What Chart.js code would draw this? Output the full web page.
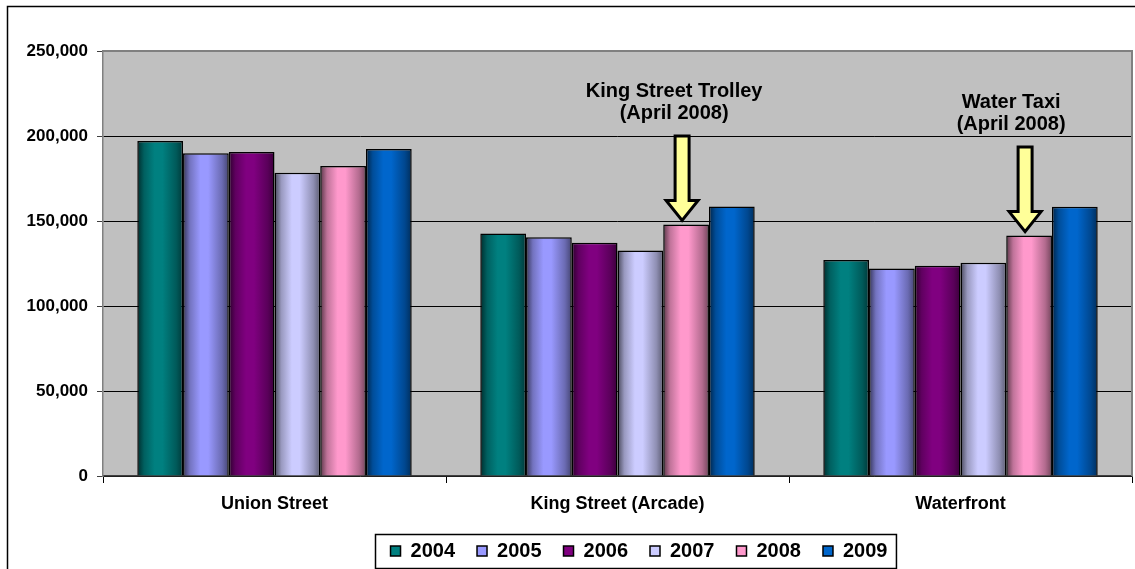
<!DOCTYPE html>
<html>
<head>
<meta charset="utf-8">
<script src="https://cdn.jsdelivr.net/npm/chart.js@4.4.1/dist/chart.umd.min.js"></script>
<style>
  html, body { margin: 0; padding: 0; background: #fff; }
</style>
</head>
<body>
<canvas id="chart" width="1135" height="569"></canvas>
<script>
// ridership by stop, per year
const categories = ["Union Street", "King Street (Arcade)", "Waterfront"];
const years = ["2004", "2005", "2006", "2007", "2008", "2009"];
const riders2004 = [197000, 142700, 127000];
const riders2005 = [189800, 140400, 122000];
const riders2006 = [190600, 137200, 123700];
const riders2007 = [178400, 132700, 125500];
const riders2008 = [182400, 148000, 141400];
const riders2009 = [192400, 158600, 158400];
const yTicks = [0, 50000, 100000, 150000, 200000, 250000];

// callouts pointing at the 2008 bar
const calloutCategory = [1, 2];
const calloutText = [["King Street Trolley", "(April 2008)"], ["Water Taxi", "(April 2008)"]];
const calloutArrowFrom = [200000, 193500];

const yearColors = ["#008080", "#9999FF", "#800080", "#CCCCFF", "#FF99CC", "#0066CC"];
const calloutTextShift = [-8, -14];
const FONT = "'Liberation Sans', Arial, sans-serif";

function shade(hex, f) {
    const n = parseInt(hex.slice(1), 16);
    const r = Math.round(((n >> 16) & 255) * f);
    const g = Math.round(((n >> 8) & 255) * f);
    const b = Math.round((n & 255) * f);
    return `rgb(${r},${g},${b})`;
}

// excel style cylinder-ish shading on each bar
const barShading = {
    id: 'barShading',
    beforeDatasetDraw(chart, args) {
        const ctx = chart.ctx;
        const base = yearColors[args.index];
        args.meta.data.forEach(el => {
            const left = el.x - el.width / 2;
            const right = el.x + el.width / 2;
            const g = ctx.createLinearGradient(left, 0, right, 0);
            g.addColorStop(0, shade(base, 0.35));
            g.addColorStop(0.15, shade(base, 0.75));
            g.addColorStop(0.38, base);
            g.addColorStop(0.55, base);
            g.addColorStop(0.85, shade(base, 0.7));
            g.addColorStop(1, shade(base, 0.45));
            el.options = Object.assign({}, el.options, { backgroundColor: g });
        });
    }
};

const frame = {
    id: 'frame',
    afterLayout(chart) {
        // move the legend under the plot like the original
        const lg = chart.legend;
        const dx = 639 - (lg.left + lg.right) / 2;
        const dy = 519 - lg.top;
        lg.left += dx; lg.right += dx;
        lg.top += dy; lg.bottom += dy;
    },
    beforeDraw(chart) {
        const { ctx, chartArea: a } = chart;
        ctx.save();
        ctx.fillStyle = '#C0C0C0';
        ctx.fillRect(a.left, a.top, a.right - a.left, a.bottom - a.top);
        ctx.strokeStyle = '#000';
        ctx.lineWidth = 1.5;
        ctx.strokeRect(7.5, 6.5, 1200, 700);
        ctx.restore();
    },
    afterDraw(chart) {
        const { ctx, chartArea: a } = chart;
        ctx.save();
        ctx.strokeStyle = '#808080';
        ctx.lineWidth = 2;
        ctx.beginPath();
        ctx.moveTo(a.left, a.top);
        ctx.lineTo(a.right, a.top);
        ctx.lineTo(a.right, a.bottom);
        ctx.stroke();
        // legend box
        const boxes = chart.legend.legendHitBoxes;
        if (boxes && boxes.length) {
            const l = Math.min(...boxes.map(b => b.left));
            const r = Math.max(...boxes.map(b => b.left + b.width));
            const cy = boxes[0].top + boxes[0].height / 2;
            ctx.strokeStyle = '#000';
            ctx.lineWidth = 1.5;
            ctx.strokeRect(Math.round(l - 16) + 0.5, Math.round(cy - 17) + 0.5, r - l + 24, 34);
        }
        ctx.restore();
    }
};

const callouts = {
    id: 'callouts',
    afterDatasetsDraw(chart) {
        const ctx = chart.ctx;
        const meta = chart.getDatasetMeta(years.indexOf("2008"));
        const yScale = chart.scales.y;
        calloutCategory.forEach((cat, i) => {
            const bar = meta.data[cat];
            const cx = bar.x - 4;
            const tip = bar.y - 4;
            const top = yScale.getPixelForValue(calloutArrowFrom[i]);
            const neck = tip - 20;
            ctx.save();
            ctx.beginPath();
            ctx.moveTo(cx - 7, top);
            ctx.lineTo(cx + 7, top);
            ctx.lineTo(cx + 7, neck);
            ctx.lineTo(cx + 16, neck);
            ctx.lineTo(cx, tip);
            ctx.lineTo(cx - 16, neck);
            ctx.lineTo(cx - 7, neck);
            ctx.closePath();
            ctx.fillStyle = '#FFFF99';
            ctx.fill();
            ctx.lineWidth = 3;
            ctx.strokeStyle = '#000';
            ctx.stroke();

            ctx.fillStyle = '#000';
            ctx.font = "bold 20px " + FONT;
            ctx.textAlign = 'center';
            ctx.textBaseline = 'middle';
            const tx = cx + calloutTextShift[i];
            ctx.fillText(calloutText[i][0], tx, top - 45);
            ctx.fillText(calloutText[i][1], tx, top - 23);
            ctx.restore();
        });
    }
};

const seriesValues = [riders2004, riders2005, riders2006, riders2007, riders2008, riders2009];
const datasets = years.map((yr, i) => ({
    label: yr,
    data: seriesValues[i],
    backgroundColor: yearColors[i],
    borderColor: '#000',
    borderWidth: 1.5,
    barPercentage: 1,
    categoryPercentage: 0.8
}));

new Chart(document.getElementById('chart'), {
    type: 'bar',
    data: { labels: categories, datasets: datasets },
    plugins: [barShading, callouts, frame],
    options: {
        responsive: false,
        animation: false,
        events: [],
        layout: { padding: { top: 51, right: 3, left: 0, bottom: 0 } },
        scales: {
            x: {
                grid: { display: true, drawOnChartArea: false, tickLength: 7, color: '#000' },
                border: { color: '#404040', width: 1.5 },
                ticks: {
                    color: '#000',
                    padding: 10,
                    font: { family: FONT, size: 18, weight: 'bold' }
                },
                afterFit(scale) { scale.height = 41; }
            },
            y: {
                min: 0,
                max: 250000,
                afterBuildTicks(scale) { scale.ticks = yTicks.map(v => ({ value: v })); },
                grid: { color: '#000', lineWidth: 1, tickLength: 6, tickColor: '#404040' },
                border: { color: '#808080', width: 1.5 },
                ticks: {
                    color: '#000',
                    padding: 9,
                    font: { family: FONT, size: 17, weight: 'bold' },
                    callback: v => v.toLocaleString('en-US')
                },
                afterFit(scale) { scale.width = 103; }
            }
        },
        plugins: {
            legend: {
                position: 'bottom',
                labels: {
                    color: '#000',
                    boxWidth: 10,
                    boxHeight: 10,
                    padding: 22,
                    font: { family: FONT, size: 20, weight: 'bold' }
                }
            },
            tooltip: { enabled: false }
        }
    }
});
</script>
</body>
</html>
